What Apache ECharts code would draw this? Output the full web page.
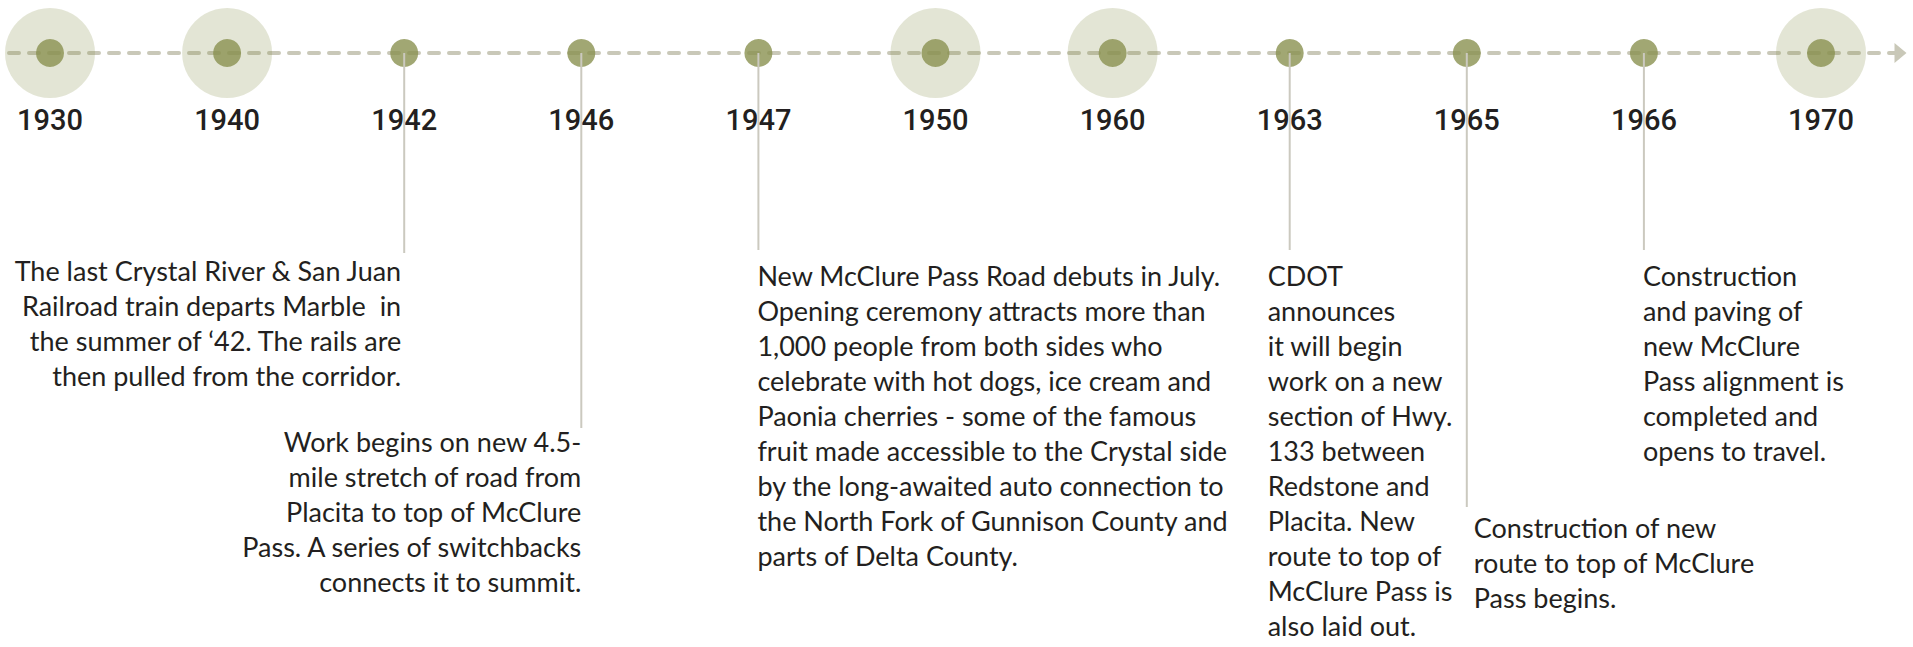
<!DOCTYPE html>
<html>
<head>
<meta charset="utf-8">
<script src="https://cdn.jsdelivr.net/npm/echarts@6/dist/echarts.min.js"></script>
<style>
html,body{margin:0;padding:0;background:#ffffff;}
#chart{width:1913px;height:647px;}
</style>
</head>
<body>
<div id="chart"></div>
<script>
// ---- DATA ----
const years = ['1930','1940','1942','1946','1947','1950','1960','1963','1965','1966','1970'];
const timelineLevel = [0,0,0,0,0,0,0,0,0,0,0];
const eventYears = ['1942','1946','1947','1963','1965','1966'];
const eventLines = [
  ['The last Crystal River & San Juan',
   'Railroad train departs Marble  in',
   'the summer of \u201842. The rails are',
   'then pulled from the corridor.'],
  ['Work begins on new 4.5-',
   'mile stretch of road from',
   'Placita to top of McClure',
   'Pass. A series of switchbacks',
   'connects it to summit.'],
  ['New McClure Pass Road debuts in July.',
   'Opening ceremony attracts more than',
   '1,000 people from both sides who',
   'celebrate with hot dogs, ice cream and',
   'Paonia cherries - some of the famous',
   'fruit made accessible to the Crystal side',
   'by the long-awaited auto connection to',
   'the North Fork of Gunnison County and',
   'parts of Delta County.'],
  ['CDOT','announces','it will begin','work on a new','section of Hwy.',
   '133 between','Redstone and','Placita. New','route to top of',
   'McClure Pass is','also laid out.'],
  ['Construction of new',
   'route to top of McClure',
   'Pass begins.'],
  ['Construction','and paving of','new McClure','Pass alignment is',
   'completed and','opens to travel.']
];

// ---- LAYOUT (annotation placement, not data) ----
const annoLayout = {
  '1942': {align:'right', dx:-3,  lineEnd:253, textTop:253},
  '1946': {align:'right', dx:0,   lineEnd:428, textTop:424},
  '1947': {align:'left',  dx:-1,  lineEnd:250, textTop:258},
  '1963': {align:'left',  dx:-22, lineEnd:250, textTop:258},
  '1965': {align:'left',  dx:7,   lineEnd:507, textTop:510},
  '1966': {align:'left',  dx:-1,  lineEnd:250, textTop:258}
};

const OLIVE = '#8a9150';
const HALO = 'rgba(139,145,80,0.3)';
const DASH = '#c9c8b8';
const CONNECT = '#cbc9bf';
const INK = '#231f20';

const chart = echarts.init(document.getElementById('chart'), null, {renderer:'svg'});

const haloData = years.map((y,i)=> (parseInt(y,10) % 10 === 0) ? [y, timelineLevel[i]] : null).filter(Boolean);

chart.setOption({
  animation:false,
  backgroundColor:'#ffffff',
  grid:[
    {left:50, right:92, top:53, bottom:10},
    {left:9, right:12.5, top:53, height:1}
  ],
  xAxis:[
    {
      type:'category', data:years, gridIndex:0, position:'top', boundaryGap:false,
      axisLine:{show:false}, axisTick:{show:false}, splitLine:{show:false},
      axisLabel:{inside:true, interval:0, margin:52, color:INK,
        fontFamily:'Roboto', fontWeight:500, fontSize:29}
    },
    {
      type:'value', gridIndex:1, position:'top', min:0, max:1,
      axisLine:{show:true, onZero:false, symbol:['none','triangle'], symbolSize:[20,12],
        lineStyle:{color:DASH, width:4, type:[10,10]}},
      axisTick:{show:false}, axisLabel:{show:false}, splitLine:{show:false}
    }
  ],
  yAxis:[
    {type:'value', gridIndex:0, min:0, max:1, inverse:true, show:false},
    {type:'value', gridIndex:1, min:0, max:1, show:false}
  ],
  series:[
    {
      type:'scatter', xAxisIndex:0, yAxisIndex:0, z:3, clip:false,
      symbol:'circle', symbolSize:90, itemStyle:{color:HALO},
      data:haloData, silent:true
    },
    {
      type:'scatter', xAxisIndex:0, yAxisIndex:0, z:4, clip:false,
      symbol:'circle', symbolSize:28, itemStyle:{color:OLIVE},
      data:timelineLevel, silent:true
    },
    {
      type:'custom', xAxisIndex:0, yAxisIndex:0, z:5, silent:true,
      data:eventYears.map((y)=>[y, 0]),
      renderItem:function(params, api){
        const yr = eventYears[params.dataIndex];
        const lay = annoLayout[yr];
        const p = api.coord([api.value(0), 0]);
        return {
          type:'group',
          children:[
            {type:'line', shape:{x1:p[0], y1:p[1], x2:p[0], y2:lay.lineEnd},
             style:{stroke:CONNECT, lineWidth:2}},
            {type:'text', style:{
              text:eventLines[params.dataIndex].join('\n'),
              x:p[0]+lay.dx, y:lay.textTop,
              align:lay.align, verticalAlign:'top',
              fontFamily:'Lato', fontSize:27, lineHeight:35, fill:INK
            }}
          ]
        };
      }
    }
  ]
});
</script>
</body>
</html>
